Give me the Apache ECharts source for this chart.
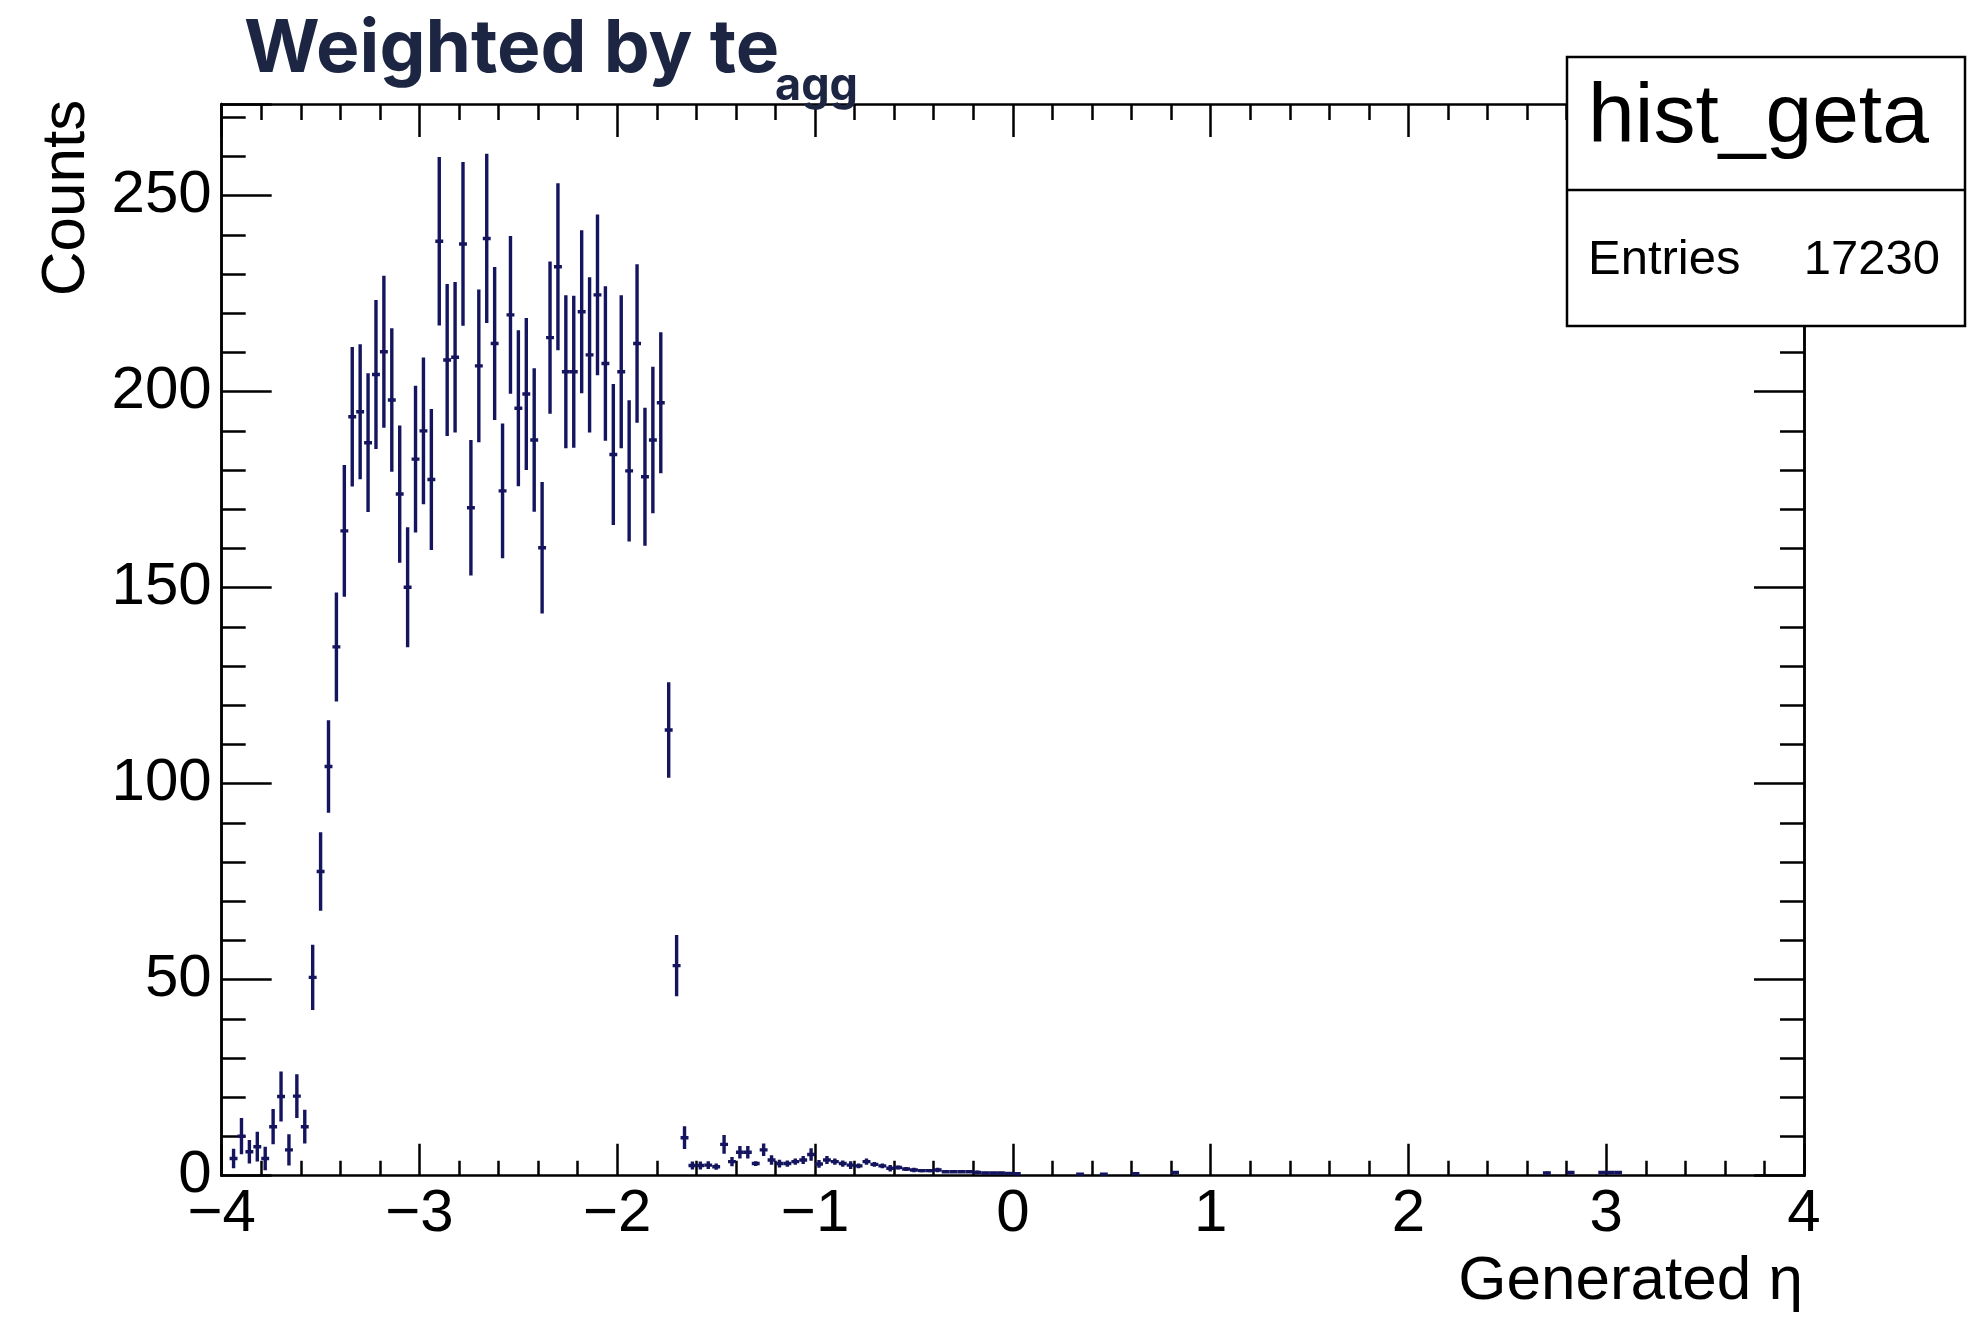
<!DOCTYPE html>
<html>
<head>
<meta charset="utf-8">
<title>hist_geta</title>
<script src="https://cdn.jsdelivr.net/npm/echarts@6/dist/echarts.min.js"></script>
<style>
  html, body { margin: 0; padding: 0; background: #ffffff; }
  #chart { width: 1976px; height: 1325px; }
</style>
</head>
<body>
<div id="chart"></div>
<script>
// Histogram of generated pseudorapidity, 0.04-wide bins, weighted counts with errors.
const etaCenters = [
  -3.94, -3.90, -3.86, -3.82, -3.78, -3.74, -3.70, -3.66, -3.62, -3.58,
  -3.54, -3.50, -3.46, -3.42, -3.38, -3.34, -3.30, -3.26, -3.22, -3.18,
  -3.14, -3.10, -3.06, -3.02, -2.98, -2.94, -2.90, -2.86, -2.82, -2.78,
  -2.74, -2.70, -2.66, -2.62, -2.58, -2.54, -2.50, -2.46, -2.42, -2.38,
  -2.34, -2.30, -2.26, -2.22, -2.18, -2.14, -2.10, -2.06, -2.02, -1.98,
  -1.94, -1.90, -1.86, -1.82, -1.78, -1.74, -1.70, -1.66, -1.62, -1.58,
  -1.54, -1.50, -1.46, -1.42, -1.38, -1.34, -1.30, -1.26, -1.22, -1.18,
  -1.14, -1.10, -1.06, -1.02, -0.98, -0.94, -0.90, -0.86, -0.82, -0.78,
  -0.74, -0.70, -0.66, -0.62, -0.58, -0.54, -0.50, -0.46, -0.42, -0.38,
  -0.34, -0.30, -0.26, -0.22, -0.18, -0.14, -0.10, -0.06, -0.02, 0.02,
  0.34, 0.46, 0.62, 0.82, 2.70, 2.82, 2.98, 3.02, 3.06
];
const counts = [
  4.4, 10.1, 6.1, 7.4, 4.4, 12.5, 20.2, 6.6, 20.3, 12.5,
  50.6, 77.6, 104.4, 134.9, 164.5, 193.6, 194.9, 187.0, 204.4, 210.2,
  197.9, 173.9, 150.1, 182.8, 190.0, 177.6, 238.4, 208.1, 208.8, 237.7,
  170.4, 206.6, 239.1, 212.3, 174.7, 219.6, 195.8, 199.4, 187.7, 160.2,
  213.8, 231.9, 205.1, 205.1, 220.4, 209.4, 224.7, 207.2, 184.0, 205.1,
  179.8, 212.3, 178.3, 187.7, 197.2, 113.7, 53.6, 9.7, 2.6, 2.6,
  2.7, 2.3, 8.0, 3.6, 6.0, 6.0, 3.1, 6.6, 4.0, 3.1,
  3.1, 3.6, 4.0, 5.4, 3.0, 4.0, 3.6, 3.1, 2.7, 2.5,
  3.6, 2.9, 2.5, 1.9, 2.1, 1.7, 1.45, 1.3, 1.3, 1.45,
  1.0, 1.0, 1.0, 1.0, 0.85, 0.7, 0.7, 0.7, 0.6, 0.5,
  0.4, 0.4, 0.5, 0.8, 0.7, 0.8, 0.8, 0.8, 0.8
];
const countErrors = [
  2.5, 4.6, 3.0, 3.8, 3.0, 4.5, 6.4, 4.0, 5.6, 4.3,
  8.3, 10.0, 11.8, 13.9, 16.8, 17.8, 17.2, 17.7, 19.0, 19.4,
  18.3, 17.5, 15.3, 18.7, 18.7, 18.0, 21.5, 19.4, 19.2, 20.9,
  17.3, 19.5, 21.6, 19.5, 17.2, 20.1, 19.9, 19.4, 18.3, 16.8,
  19.4, 21.3, 19.5, 19.4, 20.8, 19.8, 20.5, 19.7, 18.0, 19.5,
  18.0, 20.2, 17.6, 18.7, 18.0, 12.2, 7.8, 2.9, 1.0, 1.0,
  1.0, 0.8, 2.4, 1.2, 1.6, 1.6, 0.6, 1.6, 1.2, 1.0,
  0.8, 0.8, 1.0, 1.6, 1.0, 1.0, 0.8, 0.8, 1.0, 0.6,
  0.8, 0.6, 0.6, 0.8, 0.5, 0.5, 0.6, 0.4, 0.4, 0.6,
  0.3, 0.3, 0.3, 0.3, 0.5, 0.3, 0.3, 0.3, 0.3, 0.3,
  0.3, 0.3, 0.3, 0.4, 0.4, 0.4, 0.4, 0.4, 0.4
];

const xTickValues = [-4, -3, -2, -1, 0, 1, 2, 3, 4];
const yTickValues = [0, 50, 100, 150, 200, 250];

const histName = 'hist_geta';
const entriesLabel = 'Entries';
const entriesValue = '17230';

const BIN_WIDTH = 0.04;
const X_MIN = -4, X_MAX = 4;
const Y_MIN = 0, Y_MAX = 273.4;
const MARK_COLOR = '#14145f';
const AXIS_FONT = '"Liberation Sans", Arial, Helvetica, sans-serif';
const TITLE_FONT = 'Inter, "Open Sans", sans-serif';

const points = etaCenters.map((x, i) => [x, counts[i], countErrors[i]]);

function minusLabel(v) {
  return v < 0 ? '\u2212' + Math.abs(v) : String(v);
}

// One bin: horizontal bar across the bin width, vertical bar for the error.
function renderErrorBar(params, api) {
  const x = api.value(0), y = api.value(1), e = api.value(2);
  const lo = api.coord([x - BIN_WIDTH / 2, y]);
  const hi = api.coord([x + BIN_WIDTH / 2, y]);
  const top = api.coord([x, y + e]);
  const bot = api.coord([x, Math.max(Y_MIN, y - e)]);
  const style = { stroke: MARK_COLOR, lineWidth: 3.4, fill: null };
  return {
    type: 'group',
    children: [
      { type: 'line', shape: { x1: lo[0], y1: lo[1], x2: hi[0], y2: hi[1] }, style: style },
      { type: 'line', shape: { x1: top[0], y1: top[1], x2: bot[0], y2: bot[1] }, style: style }
    ]
  };
}

const lineStyle = { color: '#000', width: 2.5 };

function xAxisDef(pos, major, minor, labels) {
  return {
    type: 'value', position: pos, min: X_MIN, max: X_MAX, interval: 1,
    axisLine: { show: true, onZero: false, lineStyle: lineStyle },
    axisTick: { show: true, inside: true, length: major, lineStyle: lineStyle },
    minorTick: { show: true, splitNumber: 5, length: minor, lineStyle: lineStyle },
    splitLine: { show: false },
    axisLabel: labels ? {
      show: true, margin: 9, fontSize: 60, fontFamily: AXIS_FONT, color: '#000',
      formatter: (v) => xTickValues.indexOf(v) >= 0 ? minusLabel(v) : ''
    } : { show: false }
  };
}

function yAxisDef(pos, interval, len, labels) {
  return {
    type: 'value', position: pos, min: Y_MIN, max: Y_MAX, interval: interval,
    axisLine: { show: true, onZero: false, lineStyle: lineStyle },
    axisTick: { show: true, inside: true, length: len, lineStyle: lineStyle },
    splitLine: { show: false },
    axisLabel: labels ? {
      show: true, margin: 10, fontSize: 60, fontFamily: AXIS_FONT, color: '#000',
      formatter: (v) => yTickValues.indexOf(v) >= 0 ? String(v) : ''
    } : { show: false }
  };
}

const chart = echarts.init(document.getElementById('chart'), null, { renderer: 'canvas' });

chart.setOption({
  backgroundColor: '#ffffff',
  animation: false,
  grid: {
    left: 221.7, right: 172, top: 104, bottom: 149.3,
    containLabel: false, outerBoundsMode: 'none'
  },
  xAxis: [
    xAxisDef('bottom', 32, 15, true),
    xAxisDef('top', 33, 16, false)
  ],
  yAxis: [
    yAxisDef('left', 10, 24, false),
    yAxisDef('left', 50, 50, true),
    yAxisDef('right', 10, 24, false),
    yAxisDef('right', 50, 50, false)
  ],
  series: [{
    type: 'custom',
    name: histName,
    xAxisIndex: 0,
    yAxisIndex: 0,
    clip: true,
    renderItem: renderErrorBar,
    encode: { x: 0, y: 1 },
    data: points
  }],
  graphic: {
    elements: [
      {
        type: 'text', x: 244, y: 50, z: 10,
        style: {
          text: 'Weighted by te', fill: '#1c2541',
          font: '700 73px ' + TITLE_FONT,
          align: 'left', verticalAlign: 'middle'
        }
      },
      {
        type: 'text', x: 775, y: 86, z: 10,
        style: {
          text: 'agg', fill: '#1c2541',
          font: '700 45px ' + TITLE_FONT,
          align: 'left', verticalAlign: 'middle'
        }
      },
      {
        type: 'text', x: 66.5, y: 198, rotation: Math.PI / 2, z: 10,
        style: {
          text: 'Counts', fill: '#000',
          font: '62px ' + AXIS_FONT,
          align: 'center', verticalAlign: 'middle'
        }
      },
      {
        type: 'text', x: 1803, y: 1282, z: 10,
        style: {
          text: 'Generated \u03b7', fill: '#000',
          font: '62px ' + AXIS_FONT,
          align: 'right', verticalAlign: 'middle'
        }
      },
      // statistics box, drawn over the frame
      {
        type: 'rect', zlevel: 1, z: 100,
        shape: { x: 1567, y: 57, width: 398, height: 269 },
        style: { fill: '#ffffff', stroke: '#000', lineWidth: 2.5 }
      },
      {
        type: 'line', zlevel: 1, z: 101,
        shape: { x1: 1567, y1: 190, x2: 1965, y2: 190 },
        style: { stroke: '#000', lineWidth: 2.5 }
      },
      {
        type: 'text', x: 1588, y: 119, zlevel: 1, z: 102,
        style: {
          text: histName, fill: '#000', font: '84px ' + AXIS_FONT,
          align: 'left', verticalAlign: 'middle'
        }
      },
      {
        type: 'text', x: 1588, y: 260, zlevel: 1, z: 102,
        style: {
          text: entriesLabel, fill: '#000', font: '49px ' + AXIS_FONT,
          align: 'left', verticalAlign: 'middle'
        }
      },
      {
        type: 'text', x: 1940, y: 260, zlevel: 1, z: 102,
        style: {
          text: entriesValue, fill: '#000', font: '49px ' + AXIS_FONT,
          align: 'right', verticalAlign: 'middle'
        }
      }
    ]
  }
});
</script>
</body>
</html>
